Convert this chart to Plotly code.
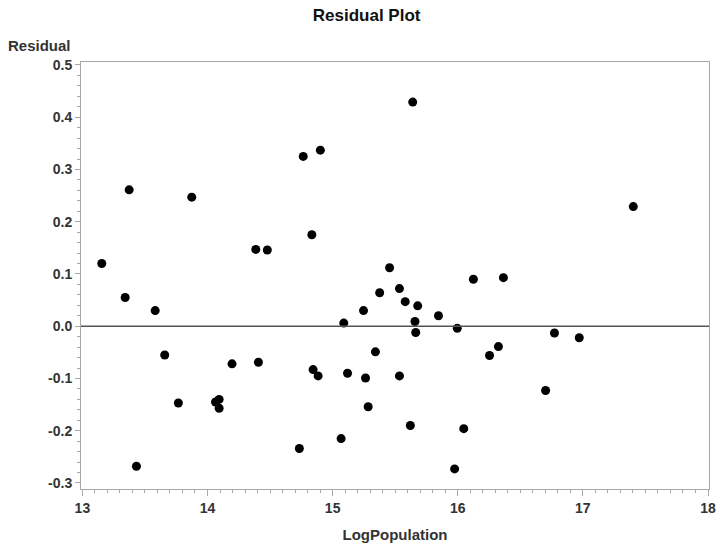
import plotly.graph_objects as go

# LogPopulation values and model residuals
log_population = [
    13.155, 13.342, 13.374, 13.432, 13.582, 13.658, 13.767, 13.874, 14.064, 14.093,
    14.093, 14.196, 14.386, 14.407, 14.478, 14.734, 14.765, 14.834, 14.844, 14.884,
    14.902, 15.068, 15.089, 15.119, 15.247, 15.263, 15.284, 15.342, 15.376, 15.455,
    15.534, 15.534, 15.580, 15.621, 15.640, 15.658, 15.664, 15.680, 15.846, 15.975,
    15.996, 16.048, 16.125, 16.254, 16.325, 16.365, 16.702, 16.773, 16.971, 17.403,
]
residual = [
    0.120, 0.055, 0.261, -0.268, 0.030, -0.055, -0.147, 0.247, -0.145, -0.140,
    -0.157, -0.072, 0.147, -0.069, 0.146, -0.234, 0.325, 0.175, -0.083, -0.095,
    0.337, -0.215, 0.006, -0.090, 0.030, -0.099, -0.154, -0.049, 0.064, 0.112,
    0.072, -0.095, 0.047, -0.190, 0.429, 0.009, -0.012, 0.039, 0.020, -0.273,
    -0.004, -0.196, 0.090, -0.056, -0.039, 0.093, -0.123, -0.013, -0.022, 0.229,
]

x_ticks = [13, 14, 15, 16, 17, 18]
y_ticks = [-0.3, -0.2, -0.1, 0.0, 0.1, 0.2, 0.3, 0.4, 0.5]
y_tick_text = ["-0.3", "-0.2", "-0.1", "0.0", "0.1", "0.2", "0.3", "0.4", "0.5"]

FONT = "Liberation Sans, Arial, sans-serif"
AXIS_GRAY = "#a8a8a8"

fig = go.Figure()
fig.add_trace(go.Scatter(
    x=log_population, y=residual, mode="markers",
    marker=dict(color="black", size=9, line=dict(width=0)),
    showlegend=False,
))

# zero reference line
fig.add_shape(type="line", xref="paper", yref="y", x0=0, x1=1, y0=0, y1=0,
              line=dict(color="#555555", width=1.5))

fig.update_layout(
    width=726, height=550,
    margin=dict(l=81, r=10, t=62, b=61),
    paper_bgcolor="white", plot_bgcolor="white",
    font=dict(family=FONT, color="#333333"),
    title=dict(text="Residual Plot", x=0.505, xanchor="center", y=0.972, yanchor="middle",
               font=dict(family=FONT, size=17, color="#111111", weight="bold")),
    xaxis=dict(
        range=[12.989, 18.008], tickvals=x_ticks, ticktext=[str(v) for v in x_ticks],
        showgrid=False, zeroline=False,
        showline=True, linecolor=AXIS_GRAY, linewidth=1, mirror=True,
        ticks="outside", ticklen=6, tickcolor=AXIS_GRAY, tickwidth=1,
        tickfont=dict(family=FONT, size=14, color="#333333", weight="bold"),
        minor=dict(dtick=0.1, ticks="outside", ticklen=3, tickcolor=AXIS_GRAY, showgrid=False),
        title=dict(text="LogPopulation", standoff=14,
                   font=dict(family=FONT, size=15, color="#333333", weight="bold")),
    ),
    yaxis=dict(
        range=[-0.3115, 0.5057], tickvals=y_ticks, ticktext=y_tick_text,
        showgrid=False, zeroline=False,
        showline=True, linecolor=AXIS_GRAY, linewidth=1, mirror=True,
        ticks="outside", ticklen=5, tickcolor=AXIS_GRAY, tickwidth=1,
        tickfont=dict(family=FONT, size=14, color="#333333", weight="bold"),
        minor=dict(dtick=0.02, ticks="outside", ticklen=3, tickcolor=AXIS_GRAY, showgrid=False),
    ),
)

# horizontal y-axis label above the tick labels
fig.add_annotation(text="Residual", xref="paper", yref="paper", x=-0.012, y=1.0,
                   xanchor="right", yanchor="bottom", yshift=6, showarrow=False,
                   font=dict(family=FONT, size=15, color="#333333", weight="bold"))

fig.write_html("out.html")
